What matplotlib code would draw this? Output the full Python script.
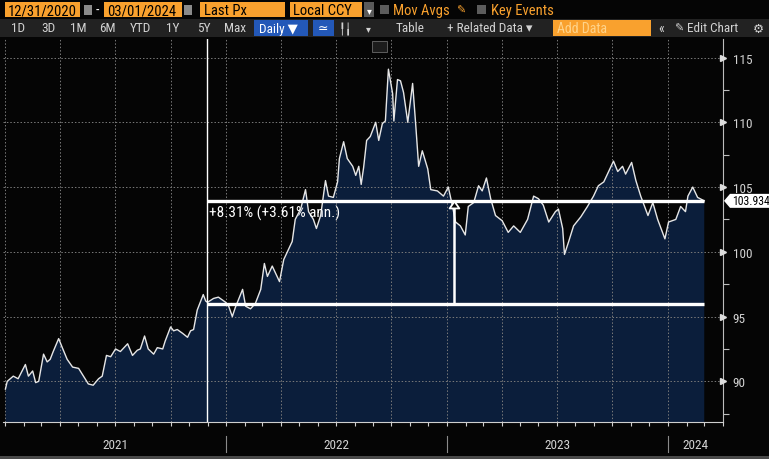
import matplotlib
matplotlib.use("Agg")
import matplotlib.pyplot as plt
import matplotlib.dates as mdates
import pandas as pd
from matplotlib.patches import Rectangle, Polygon
from matplotlib.transforms import blended_transform_factory

dates = [
    "2021-01-01", "2021-01-04", "2021-01-14", "2021-01-22", "2021-02-03", "2021-02-08",
    "2021-02-15", "2021-02-20", "2021-02-25", "2021-03-05", "2021-03-11", "2021-03-16",
    "2021-03-21", "2021-03-30", "2021-04-05", "2021-04-13", "2021-04-22", "2021-05-02",
    "2021-05-10", "2021-05-18", "2021-05-26", "2021-06-04", "2021-06-10", "2021-06-17",
    "2021-06-24", "2021-07-02", "2021-07-10", "2021-07-22", "2021-07-30", "2021-08-07",
    "2021-08-12", "2021-08-19", "2021-08-25", "2021-09-03", "2021-09-09", "2021-09-18",
    "2021-09-22", "2021-10-01", "2021-10-06", "2021-10-12", "2021-10-21", "2021-10-29",
    "2021-11-03", "2021-11-08", "2021-11-14", "2021-11-19", "2021-11-24", "2021-11-28",
    "2021-12-01", "2021-12-11", "2021-12-19", "2021-12-31", "2022-01-05", "2022-01-11",
    "2022-01-16", "2022-01-28", "2022-02-02", "2022-02-10", "2022-02-18", "2022-02-27",
    "2022-03-05", "2022-03-10", "2022-03-18", "2022-03-23", "2022-03-30", "2022-04-06",
    "2022-04-14", "2022-04-20", "2022-04-25", "2022-05-04", "2022-05-12", "2022-05-17",
    "2022-05-25", "2022-05-30", "2022-06-06", "2022-06-14", "2022-06-19", "2022-06-27",
    "2022-07-04", "2022-07-07", "2022-07-14", "2022-07-20", "2022-07-29", "2022-08-03",
    "2022-08-08", "2022-08-12", "2022-08-16", "2022-08-21", "2022-08-27", "2022-09-05",
    "2022-09-10", "2022-09-16", "2022-09-21", "2022-09-26", "2022-10-03", "2022-10-05",
    "2022-10-11", "2022-10-16", "2022-10-21", "2022-10-28", "2022-11-05", "2022-11-10",
    "2022-11-15", "2022-11-21", "2022-11-30", "2022-12-05", "2022-12-16", "2022-12-26",
    "2023-01-03", "2023-01-10", "2023-01-15", "2023-01-23", "2023-01-31", "2023-02-05",
    "2023-02-14", "2023-02-22", "2023-02-28", "2023-03-07", "2023-03-14", "2023-03-22",
    "2023-04-02", "2023-04-12", "2023-04-21", "2023-05-02", "2023-05-14", "2023-05-24",
    "2023-06-01", "2023-06-09", "2023-06-18", "2023-06-29", "2023-07-04", "2023-07-11",
    "2023-07-14", "2023-07-21", "2023-07-29", "2023-08-10", "2023-08-21", "2023-08-31",
    "2023-09-08", "2023-09-17", "2023-09-25", "2023-10-03", "2023-10-10", "2023-10-18",
    "2023-10-23", "2023-11-02", "2023-11-09", "2023-11-17", "2023-11-29", "2023-12-07",
    "2023-12-15", "2023-12-27", "2024-01-02", "2024-01-14", "2024-01-22", "2024-01-30",
    "2024-02-03", "2024-02-11", "2024-02-19", "2024-03-01",
]
prices = [
    89.4, 90.0, 90.4, 90.2, 91.3, 90.4,
    90.8, 89.9, 90.0, 92.1, 91.5, 91.7,
    92.3, 93.3, 92.6, 91.7, 91.1, 91.0,
    90.4, 89.8, 89.7, 90.2, 90.4, 92.0,
    91.9, 92.5, 92.3, 92.9, 92.0, 92.4,
    92.5, 93.5, 92.5, 92.1, 92.6, 92.5,
    93.1, 94.2, 93.9, 94.0, 93.7, 93.4,
    93.9, 94.0, 95.5, 96.1, 96.7, 96.2,
    96.1, 96.4, 96.5, 96.1, 95.8, 95.0,
    95.7, 97.1, 95.8, 95.6, 96.0, 97.1,
    99.1, 98.1, 98.9, 98.4, 97.7, 99.4,
    100.2, 100.8, 102.5, 103.3, 104.8, 103.1,
    102.5, 101.8, 102.8, 105.5, 104.3, 104.2,
    105.4, 107.2, 108.5, 107.2, 106.6, 105.9,
    106.6, 105.2, 106.5, 108.6, 108.9, 110.0,
    108.6, 109.9, 110.1, 114.1, 112.2, 110.1,
    113.3, 113.2, 112.3, 110.0, 113.0, 109.9,
    106.6, 107.8, 106.4, 104.8, 104.7, 104.3,
    105.0, 103.5, 102.3, 102.0, 101.3, 103.5,
    103.8, 105.1, 104.7, 105.7, 104.1, 102.8,
    102.4, 101.5, 102.0, 101.5, 102.5, 104.3,
    104.1, 103.6, 102.3, 103.1, 103.3, 101.8,
    99.8, 100.8, 102.0, 102.7, 103.5, 104.3,
    105.1, 105.4, 106.2, 107.0, 106.2, 106.6,
    106.0, 106.9, 105.5, 104.3, 102.8, 103.8,
    102.5, 101.0, 102.3, 102.5, 103.5, 103.1,
    104.3, 105.0, 104.2, 103.934,
]

start_label = "12/31/2020"
end_label = "03/01/2024"
change_label = "+8.31% (+3.61% ann.)"
base_level = 95.96
last_level = 103.934
marker_date = "2021-11-30"
arrow_date = "2023-01-13"
year_labels = ["2021", "2022", "2023", "2024"]
y_ticks = [90, 95, 100, 105, 110, 115]
periods = ["1D", "3D", "1M", "6M", "YTD", "1Y", "5Y", "Max"]

W, H = 769, 460
BG = "#050505"
NAVY = "#0b1e3b"
ORANGE = "#f9a12e"
GRID = "#7a7a7a"
TXT = "#d2d2d2"

plt.rcParams["font.family"] = ["Roboto Condensed", "DejaVu Sans"]

fig = plt.figure(figsize=(W / 100, H / 100), dpi=100, facecolor=BG)


def fx(x):
    return x / W


def fy(y):
    return 1 - y / H


def box(x0, y0, x1, y1, color, **kw):
    fig.patches.append(Rectangle((fx(x0), fy(y1)), fx(x1 - x0), (y1 - y0) / H,
                                 transform=fig.transFigure, facecolor=color,
                                 edgecolor=kw.pop("ec", "none"), lw=kw.pop("lw", 0), **kw))


# ---- toolbar, row 1
box(5, 3, 80, 18, ORANGE)
fig.text(fx(8), fy(11), start_label, color="black", fontsize=10.5, va="center")
box(84, 6, 92, 16, "#8a8a8a")
fig.text(fx(96), fy(11), "-", color="white", fontsize=10, va="center")
box(104, 3, 182, 18, ORANGE)
fig.text(fx(107), fy(11), end_label, color="black", fontsize=10.5, va="center")
box(184, 6, 192, 16, "#8a8a8a")
box(200, 3, 285, 18, ORANGE)
fig.text(fx(204), fy(11), "Last Px", color="black", fontsize=10.5, va="center")
box(290, 3, 362, 18, ORANGE)
fig.text(fx(293), fy(11), "Local CCY", color="black", fontsize=10.5, va="center")
box(364, 3, 374, 18, "#5a5a5a")
fig.text(fx(369), fy(11), "▾", color="white", fontsize=7, va="center", ha="center",
         family="DejaVu Sans")
box(380, 6, 389, 15, "#5c5c5c")
fig.text(fx(393), fy(11), "Mov Avgs", color=ORANGE, fontsize=10.5, va="center")
fig.text(fx(456), fy(11), "✎", color=ORANGE, fontsize=8, va="center", family="DejaVu Sans")
box(477, 6, 486, 15, "#5c5c5c")
fig.text(fx(491), fy(11), "Key Events", color=ORANGE, fontsize=10.5, va="center")

# ---- toolbar, row 2
box(0, 20, W, 38, "#222222")
for lab, xc in zip(periods, [18, 48, 78, 107, 140, 173, 204, 235]):
    fig.text(fx(xc), fy(29), lab, color=TXT, fontsize=9.5, va="center", ha="center")
box(254, 21, 308, 37, "#2358b8")
fig.text(fx(259), fy(29), "Daily ▼", color="white", fontsize=9.5, va="center")
box(313, 21, 334, 37, "#2358b8")
fig.text(fx(323), fy(29), "≃", color="white", fontsize=9, va="center", ha="center",
         family="DejaVu Sans")
fig.text(fx(345), fy(29), "╿╽", color=TXT, fontsize=8, va="center", ha="center",
         family="DejaVu Sans")
fig.text(fx(368), fy(29), "▾", color=TXT, fontsize=7, va="center", ha="center",
         family="DejaVu Sans")
fig.text(fx(396), fy(29), "Table", color=TXT, fontsize=9.5, va="center")
fig.text(fx(447), fy(29), "+ Related Data ▾", color=TXT, fontsize=9.5, va="center")
box(553, 21, 651, 37, ORANGE)
fig.text(fx(557), fy(29), "Add Data", color="#ffd38a", fontsize=10, va="center")
fig.text(fx(661), fy(29), "«", color=TXT, fontsize=10, va="center", ha="center")
fig.text(fx(674), fy(29), "✎", color=TXT, fontsize=8, va="center", family="DejaVu Sans")
fig.text(fx(687), fy(29), "Edit Chart", color=TXT, fontsize=9.5, va="center")
fig.text(fx(758), fy(29), "⚙", color=TXT, fontsize=9, va="center", ha="center",
         family="DejaVu Sans")

# ---- main chart
ax = fig.add_axes([fx(3), 1 - 423 / H, (723 - 3) / W, (423 - 40) / H])
ax.set_facecolor(BG)

x = pd.to_datetime(dates)
ax.fill_between(x, prices, 0, color=NAVY, lw=0, zorder=1)
ax.plot(x, prices, color="#e6e6e6", lw=1.0, zorder=3)

ax.set_xlim(pd.Timestamp("2020-12-28"), pd.Timestamp("2024-04-01"))
ax.set_ylim(86.86, 116.43)

# quarter grid + monthly ticks
ax.xaxis.set_major_locator(mdates.MonthLocator(bymonth=[1, 4, 7, 10]))
ax.xaxis.set_minor_locator(mdates.MonthLocator())
ax.xaxis.set_major_formatter(plt.NullFormatter())
ax.tick_params(axis="x", which="both", colors="#cfcfcf", direction="out", length=3, width=0.8)
ax.grid(True, which="major", axis="both", color=GRID, ls=(0, (1.5, 2)), lw=0.7, zorder=2)

ax.yaxis.tick_right()
ax.set_yticks(y_ticks)
ax.set_yticks([t + 2.5 for t in y_ticks if t + 2.5 < 116] + [87.5], minor=True)
ax.tick_params(axis="y", which="major", colors=TXT, labelsize=9.5, length=0, pad=7)
ax.tick_params(axis="y", which="minor", colors="#bdbdbd", length=4, width=0.8)
tr_y = blended_transform_factory(ax.transAxes, ax.transData)
ax.plot([1.0] * len(y_ticks), y_ticks, ls="none", marker=">", ms=4, color="#dddddd",
        transform=tr_y, clip_on=False, zorder=5)

for s in ["top", "left"]:
    ax.spines[s].set_visible(False)
ax.spines["right"].set_color("#bdbdbd")
ax.spines["bottom"].set_color("#cfcfcf")

# year labels and separators under the axis
tr_x = blended_transform_factory(ax.transData, ax.transAxes)
xmin, xmax = ax.get_xlim()
for i, yl in enumerate(year_labels):
    a = max(mdates.date2num(pd.Timestamp(f"{yl}-01-01")), xmin)
    b = min(mdates.date2num(pd.Timestamp(f"{int(yl) + 1}-01-01")), xmax)
    ax.text((a + b) / 2, -0.058, yl, transform=tr_x, ha="center", va="center",
            color=TXT, fontsize=9.5)
    if i > 0:
        ax.plot([a, a], [-0.036, -0.078], transform=tr_x, color="#8a8a8a", lw=0.8,
                clip_on=False)

# ---- measuring annotation
md = pd.Timestamp(marker_date)
ax.axvline(md, color="white", lw=1.0, zorder=4)
ax.plot([md, x[-1]], [last_level, last_level], color="white", lw=2.4, zorder=4,
        solid_capstyle="butt")
ax.plot([md, x[-1]], [base_level, base_level], color="white", lw=2.4, zorder=4,
        solid_capstyle="butt")
ad = pd.Timestamp(arrow_date)
ax.plot([ad, ad], [base_level, last_level - 0.5], color="white", lw=1.8, zorder=4)
ax.plot([ad], [last_level], marker=[(0, 0), (-0.7, -1), (0.7, -1), (0, 0)], ms=10,
        mfc=BG, mec="white", mew=1.3, zorder=5)
ax.annotate(change_label, (md, last_level), xytext=(1.5, -3), textcoords="offset points",
            color="white", fontsize=11, va="top", ha="left", zorder=6)

# last value tag on the price axis
fig.canvas.draw()
px, py = tr_y.transform((1.0, last_level))
tag = [(px + 1, py), (px + 7, py + 7), (px + 46, py + 7), (px + 46, py - 7), (px + 7, py - 7)]
fig.patches.append(Polygon(tag, closed=True, transform=None, facecolor="white",
                           edgecolor="none", zorder=6))
fig.text((px + 9) / W, py / H, f"{last_level:.3f}", color="black", fontsize=8.5,
         va="center", ha="left", zorder=7)

# chart-type widget in the top corner
box(372, 42, 387, 53, "#1c1c1c", ec="#6a6a6a", lw=0.6)
# thin frame line at the bottom edge
box(0, 457, W, 460, "#4a4a4a")

fig.savefig("out.png", dpi=100, facecolor=BG)
